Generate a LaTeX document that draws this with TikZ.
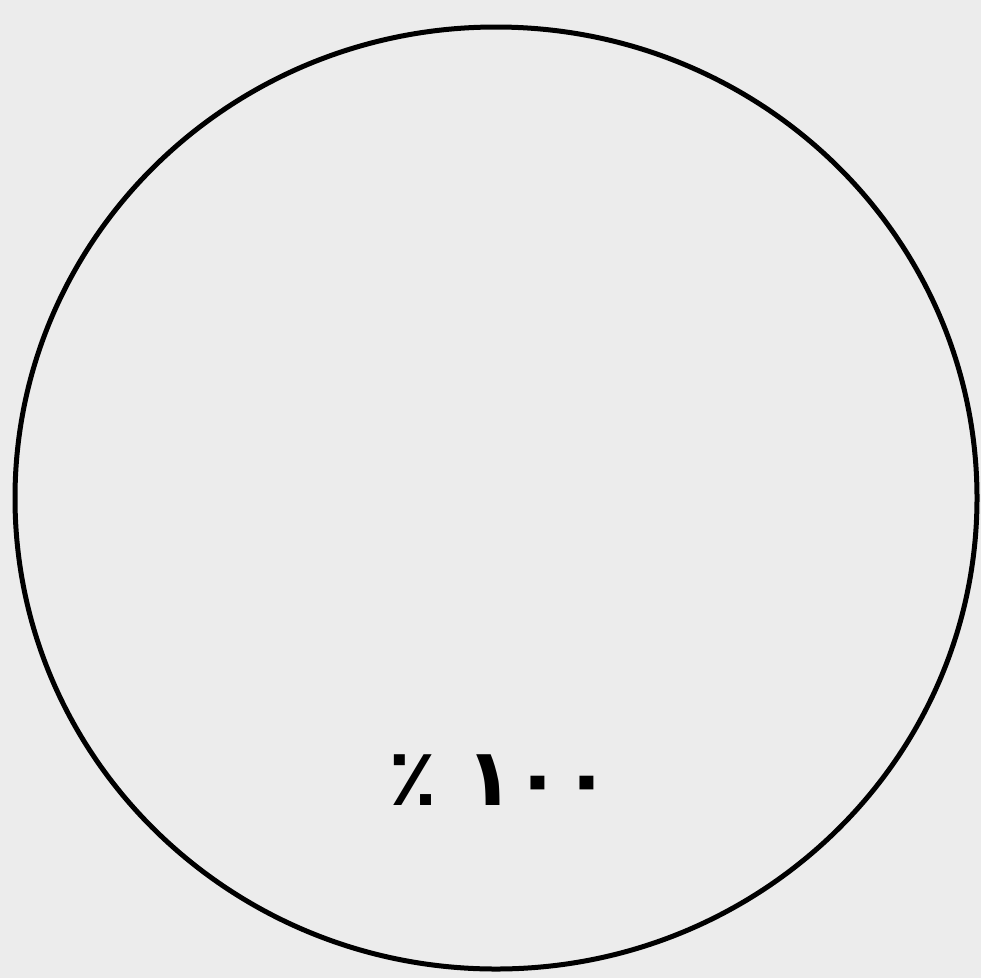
\documentclass[tikz,border=0pt]{standalone}
\usepackage{fontspec}
\TeXXeTstate=1
\newfontfamily\arabicfont[Script=Arabic]{DejaVu Sans}
\definecolor{paper}{RGB}{236,236,236}
\tikzset{ring/.style={draw=black, line width=5pt}}
\begin{document}
\begin{tikzpicture}[x=1pt,y=-1pt]
\fill[paper] (0,0) rectangle (981,978);
\useasboundingbox (0,0) rectangle (981,978);
\draw[ring] (496,498) ellipse [x radius=481, y radius=471];
\node[font=\arabicfont\fontsize{80}{90}\selectfont\bfseries] (pct) at (500,780) {\beginR\beginL ١٠٠\endL{} ٪\endR};
\end{tikzpicture}
\end{document}
